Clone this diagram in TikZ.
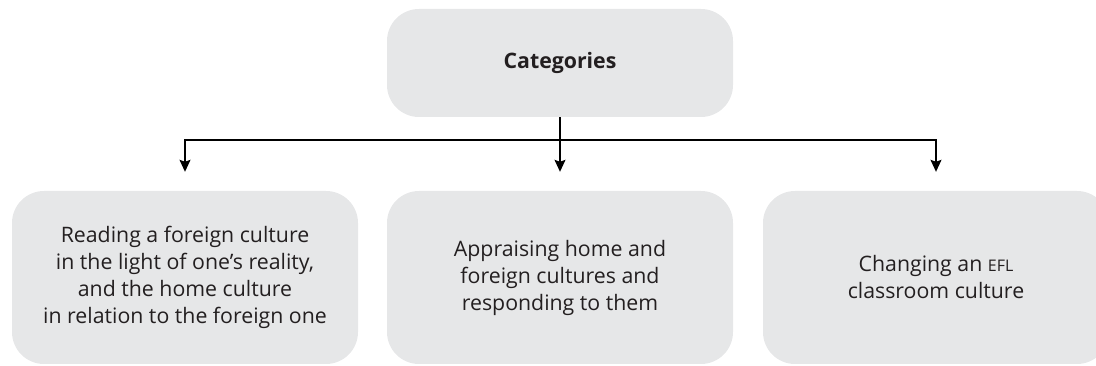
\documentclass[tikz,border=0pt]{standalone}
\usepackage{fontspec}
\setmainfont{Open Sans}
\usetikzlibrary{arrows.meta}
\definecolor{boxgray}{HTML}{E6E7E8}
\definecolor{textdark}{HTML}{231F20}
\tikzstyle{category}=[rectangle,rounded corners=32pt,fill=boxgray,text=textdark,minimum width=346pt,align=center,inner sep=0pt,font=\fontsize{21.3}{27}\selectfont]
\tikzstyle{link}=[line width=1.3pt,-{Stealth[length=12pt,width=11pt,inset=2pt]},shorten >=19pt]

\begin{document}
\begin{tikzpicture}[x=1pt,y=1pt]
          \useasboundingbox (0,0) rectangle (1096,366);
          \clip (0,0) rectangle (1096,366);
          \node[category,minimum height=108pt,font=\bfseries\fontsize{21.3}{27}\selectfont] (cat) at (560,303) {Categories};
          \node[category,minimum height=173pt] (read) at (185,88.5) {Reading a foreign culture\\in the light of one’s reality,\\and the home culture\\in relation to the foreign one};
          \node[category,minimum height=173pt] (appr) at (560,88.5) {Appraising home and\\foreign cultures and\\responding to them};
          \node[category,minimum height=173pt] (chg) at (936,88.5) {Changing an {\fontsize{16}{27}\selectfont EFL}\\classroom culture};
          \coordinate (split) at (560,226);
          \path
            (cat) edge[link] (appr)
            (split) edge[link,to path={-| (\tikztotarget)}] (read)
            (split) edge[link,to path={-| (\tikztotarget)}] (chg);
        \end{tikzpicture}
\end{document}
